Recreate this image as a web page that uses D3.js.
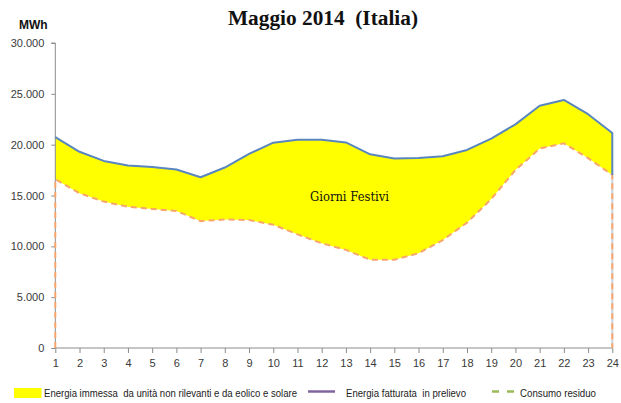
<!DOCTYPE html>
<html><head><meta charset="utf-8">
<script src="https://cdn.jsdelivr.net/npm/d3@7/dist/d3.min.js"></script>
<style>body{margin:0;background:#fff}svg{display:block}text{white-space:pre}</style>
</head><body>
<svg id="c" width="621" height="403"></svg>
<script>
const hours = d3.range(1, 25);
const energiaFatturata = [20750,19300,18400,17960,17800,17550,16800,17750,19100,20200,20480,20480,20220,19050,18650,18690,18860,19480,20600,22000,23830,24400,23000,21150];
const consumoResiduo = [16600,15220,14400,13900,13680,13480,12480,12640,12580,12130,11180,10300,9650,8680,8680,9320,10620,12330,14650,17500,19620,20130,18680,17020];
const yTicks = [0,5000,10000,15000,20000,25000,30000];
const title = "Maggio 2014  (Italia)";
const yLabel = "MWh";
const areaLabel = "Giorni Festivi";
const legendLabels = ["Energia immessa  da unità non rilevanti e da eolico e solare","Energia fatturata  in prelievo","Consumo residuo"];

const svg = d3.select("#c");
const x = d3.scaleLinear().domain([1,24]).range([55.3,612.3]);
const y = d3.scaleLinear().domain([0,30000]).range([348,43]);
const fmt = v => d3.format(",")(v).replace(/,/g,".");
const data = hours.map((h,i)=>({h, top:energiaFatturata[i], bot:consumoResiduo[i]}));

svg.append("path").datum(data)
  .attr("d", d3.area().x(d=>x(d.h)).y0(d=>y(d.bot)).y1(d=>y(d.top)))
  .attr("fill","#ffff00");

const gy = svg.append("g").attr("transform",`translate(${x(1)},0)`)
  .call(d3.axisLeft(y).tickValues(yTicks).tickSize(4).tickPadding(7).tickFormat(fmt));
gy.select(".domain").attr("stroke","#8c8c8c").attr("d",`M-4,${y(30000)}H0V${y(0)}`);
gy.selectAll(".tick line").attr("stroke","#8c8c8c");
gy.selectAll("text").attr("font-family","Liberation Sans, Arial, sans-serif").attr("font-size","11px").attr("fill","#3a3a3a");

const gx = svg.append("g").attr("transform",`translate(0,${y(0)})`)
  .call(d3.axisBottom(x).tickValues(hours).tickSize(5).tickPadding(6).tickFormat(d3.format("d")));
gx.select(".domain").attr("stroke","#8c8c8c").attr("d",`M${x(1)},0H${x(24)}`);
gx.selectAll(".tick line").attr("stroke","#8c8c8c");
gx.selectAll("text").attr("font-family","Liberation Sans, Arial, sans-serif").attr("font-size","11px").attr("fill","#3a3a3a");

svg.append("line").attr("x1",x(24)).attr("x2",x(24)).attr("y1",y(consumoResiduo[23])).attr("y2",y(0))
  .attr("stroke","#c9d3dc").attr("stroke-width",2);

const lowPts = [[1,0]].concat(data.map(d=>[d.h,d.bot])).concat([[24,0]]);
svg.append("path").datum(lowPts)
  .attr("d", d3.line().x(d=>x(d[0])).y(d=>y(d[1])))
  .attr("fill","none").attr("stroke","#f8a66c").attr("stroke-width",2).attr("stroke-dasharray","6,4");

const topPts = data.map(d=>[d.h,d.top]).concat([[24,consumoResiduo[23]]]);
svg.append("path").datum(topPts)
  .attr("d", d3.line().x(d=>x(d[0])).y(d=>y(d[1])))
  .attr("fill","none").attr("stroke","#5a86c0").attr("stroke-width",2).attr("stroke-linejoin","round");

svg.append("text").attr("x",323).attr("y",25).attr("text-anchor","middle")
  .attr("font-family","Liberation Serif, serif").attr("font-weight","bold").attr("font-size","20px").attr("fill","#111")
  .attr("textLength",190).attr("lengthAdjust","spacingAndGlyphs").text(title);
svg.append("text").attr("x",19).attr("y",29)
  .attr("font-family","Liberation Sans, Arial, sans-serif").attr("font-weight","bold").attr("font-size","12px").attr("fill","#111").text(yLabel);
svg.append("text").attr("x",349.5).attr("y",201).attr("text-anchor","middle")
  .attr("font-family","DejaVu Serif, serif").attr("font-size","12px").attr("fill","#111")
  .attr("textLength",79).attr("lengthAdjust","spacingAndGlyphs").text(areaLabel);

const lg = svg.append("g").attr("font-family","Liberation Sans, Arial, sans-serif").attr("font-size","10px").attr("fill","#222");
lg.append("rect").attr("x",14).attr("y",388).attr("width",27.5).attr("height",10).attr("fill","#ffff00");
lg.append("text").attr("x",44).attr("y",397).attr("textLength",253).attr("lengthAdjust","spacingAndGlyphs").text(legendLabels[0]);
lg.append("line").attr("x1",308).attr("x2",335).attr("y1",391.5).attr("y2",391.5).attr("stroke","#8064a2").attr("stroke-width",2.5);
lg.append("text").attr("x",346).attr("y",397).attr("textLength",120).attr("lengthAdjust","spacingAndGlyphs").text(legendLabels[1]);
lg.append("line").attr("x1",492).attr("x2",514).attr("y1",391.5).attr("y2",391.5).attr("stroke","#9bbb59").attr("stroke-width",2.5).attr("stroke-dasharray","7,8");
lg.append("text").attr("x",520).attr("y",397).attr("textLength",76).attr("lengthAdjust","spacingAndGlyphs").text(legendLabels[2]);
</script>
</body></html>
